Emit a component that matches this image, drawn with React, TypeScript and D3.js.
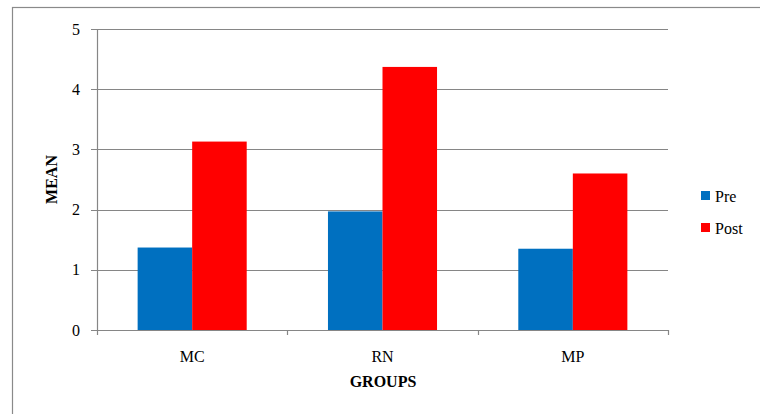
import React, { useEffect, useRef } from 'react';
import * as d3 from 'd3';

const groups = ['MC', 'RN', 'MP'];
const seriesNames = ['Pre', 'Post'];
const preValues = [1.37, 1.97, 1.35];
const postValues = [3.13, 4.37, 2.6];
const yTicks = [0, 1, 2, 3, 4, 5];
const colors = ['#0070C0', '#FF0000'];

const W = 760;
const H = 414;

export default function App() {
  const svgRef = useRef<SVGSVGElement>(null);

  useEffect(() => {
    if (!svgRef.current) return;
    const svg = d3.select(svgRef.current);
    svg.selectAll('*').remove();

    const plot = { left: 97, right: 668, top: 29, bottom: 330 };

    // outer frame
    svg.append('rect')
      .attr('x', 12.5).attr('y', 7.5)
      .attr('width', W + 10).attr('height', H + 10)
      .attr('fill', '#fff').attr('stroke', '#8a8a8a').attr('stroke-width', 1.2);

    const x = d3.scaleBand<string>().domain(groups).range([plot.left, plot.right]).paddingInner(0).paddingOuter(0);
    const y = d3.scaleLinear().domain([0, 5]).range([plot.bottom, plot.top]);
    const inner = d3.scaleBand<string>().domain(seriesNames).range([0, x.bandwidth()]).paddingInner(0).paddingOuter(0.745);

    // gridlines
    svg.append('g')
      .selectAll('line')
      .data(yTicks)
      .join('line')
      .attr('x1', plot.left - 6).attr('x2', plot.right)
      .attr('y1', d => Math.round(y(d)) + 0.5).attr('y2', d => Math.round(y(d)) + 0.5)
      .attr('stroke', '#868686').attr('stroke-width', 1.2);

    // y axis line
    svg.append('line')
      .attr('x1', plot.left + 0.5).attr('x2', plot.left + 0.5)
      .attr('y1', plot.top).attr('y2', plot.bottom)
      .attr('stroke', '#868686').attr('stroke-width', 1.2);

    // x tick marks at band boundaries
    const bounds = [...groups.map(g => x(g)!), plot.right];
    svg.append('g')
      .selectAll('line')
      .data(bounds)
      .join('line')
      .attr('x1', d => Math.round(d) + 0.5).attr('x2', d => Math.round(d) + 0.5)
      .attr('y1', plot.bottom).attr('y2', plot.bottom + 5)
      .attr('stroke', '#868686').attr('stroke-width', 1.2);

    // bars
    const data = groups.map((g, i) => ({ g, vals: [preValues[i], postValues[i]] }));
    svg.append('g')
      .selectAll('g')
      .data(data)
      .join('g')
      .attr('transform', d => `translate(${x(d.g)},0)`)
      .selectAll('rect')
      .data(d => d.vals.map((v, k) => ({ v, k })))
      .join('rect')
      .attr('x', d => inner(seriesNames[d.k])!)
      .attr('width', inner.bandwidth())
      .attr('y', d => y(d.v))
      .attr('height', d => y(0) - y(d.v))
      .attr('fill', d => colors[d.k]);

    const labels = svg.append('g').attr('class', 'serif');

    // y tick labels
    labels.append('g')
      .selectAll('text')
      .data(yTicks)
      .join('text')
      .attr('x', 80)
      .attr('y', d => y(d))
      .attr('dy', '0.35em')
      .attr('text-anchor', 'end')
      .text(d => d);

    // x tick labels
    labels.append('g')
      .selectAll('text')
      .data(groups)
      .join('text')
      .attr('x', d => x(d)! + x.bandwidth() / 2)
      .attr('y', 362)
      .attr('text-anchor', 'middle')
      .text(d => d);

    // axis titles
    labels.append('text')
      .attr('x', 383).attr('y', 387)
      .attr('text-anchor', 'middle')
      .attr('font-weight', 'bold')
      .text('GROUPS');

    labels.append('text')
      .attr('transform', `translate(57,${(plot.top + plot.bottom) / 2}) rotate(-90)`)
      .attr('text-anchor', 'middle')
      .attr('font-weight', 'bold')
      .text('MEAN');

    // legend
    const legend = labels.append('g')
      .selectAll('g')
      .data(seriesNames)
      .join('g')
      .attr('transform', (d, i) => `translate(701,${196 + i * 32})`);
    legend.append('rect')
      .attr('x', 0).attr('y', -5)
      .attr('width', 9).attr('height', 9)
      .attr('fill', (d, i) => colors[i]);
    legend.append('text')
      .attr('x', 14).attr('y', 0)
      .attr('dy', '0.35em')
      .text(d => d);
  }, []);

  return (
    <div style={{ position: 'fixed', left: 0, top: 0, width: W, height: H, background: '#fff' }}>
      <style>{`.serif text { font-family: 'Times New Roman', 'Liberation Serif', 'DejaVu Serif', 'Noto Serif', serif; font-size: 16px; }`}</style>
      <svg ref={svgRef} width={W} height={H} style={{ display: 'block' }} />
    </div>
  );
}
